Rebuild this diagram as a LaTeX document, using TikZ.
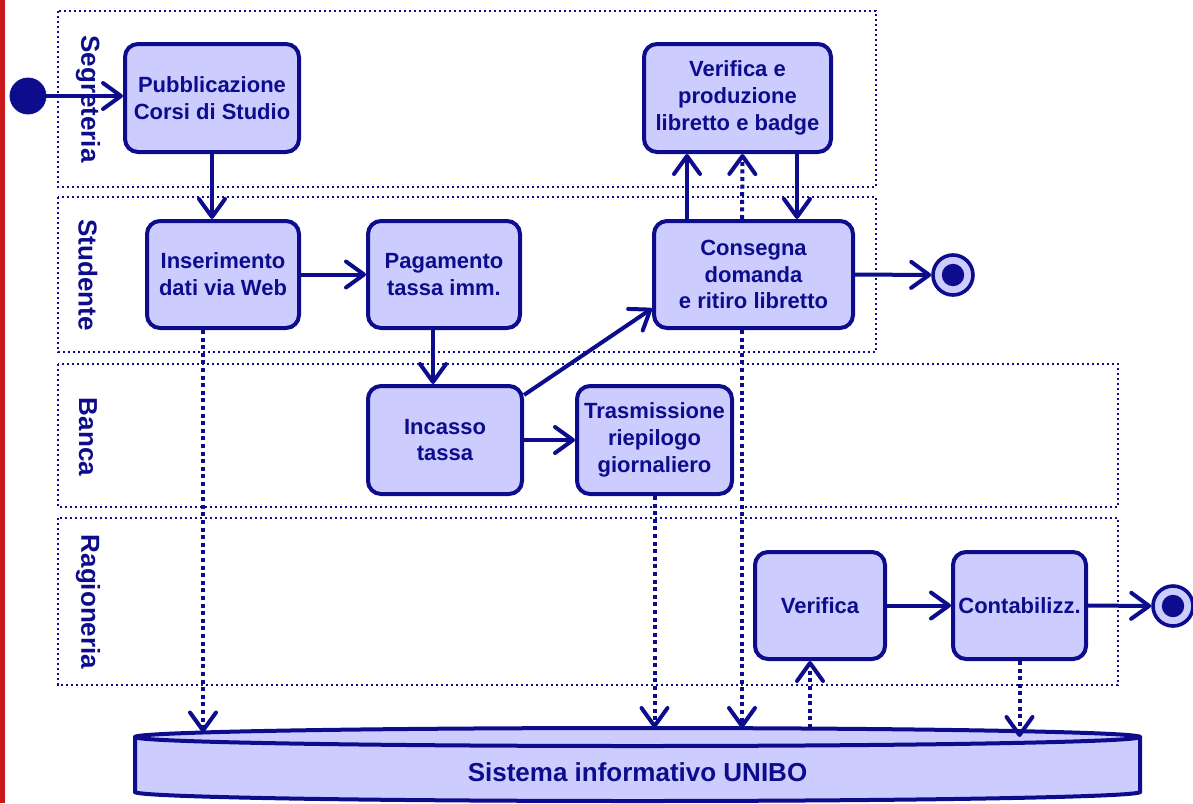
\documentclass[tikz,border=0pt]{standalone}
\usepackage{fontspec}
\setmainfont{Liberation Sans}
\usetikzlibrary{arrows.meta,calc,shapes}
\definecolor{unibo}{RGB}{12,12,140}
\definecolor{actfill}{RGB}{204,204,255}
\definecolor{barred}{RGB}{200,24,24}

\begin{document}
\begin{tikzpicture}[x=0.5pt,y=-0.5pt,
    font=\fontsize{11}{13.4}\selectfont\bfseries,
    activity/.style={draw=unibo, fill=actfill, text=unibo, line width=2pt, rounded corners=6.5pt, align=center, inner sep=1pt},
    lane/.style={draw=unibo, line width=1.1pt, dash pattern=on 1.1pt off 1.4pt},
    lanelabel/.style={rotate=-90, text=unibo, font=\fontsize{13}{15}\selectfont\bfseries},
    flow/.style={draw=unibo, line width=2pt, -{Straight Barb[length=9pt,width=13pt,round]}},
    dataflow/.style={flow, dash pattern=on 2pt off 1.8pt},
    startnode/.style={circle, fill=unibo, draw=unibo, minimum size=18pt, inner sep=0pt},
    endnode/.style={circle, fill=actfill, draw=unibo, line width=1.8pt, minimum size=20pt, inner sep=0pt,
        path picture={\fill[unibo] (path picture bounding box.center) circle (5.6pt);}},
    sisbox/.style={text=unibo, minimum width=502.5pt, minimum height=44pt, inner sep=0pt, outer sep=0pt, font=\fontsize{13}{15}\selectfont\bfseries}]
    \useasboundingbox (0,0) rectangle (1193,803);

    % red margin bar
    \fill[barred] (0,0) rectangle (5,803);

    % Swimlanes
    \draw[lane] (58,11) rectangle (876,187);
    \draw[lane] (58,197) rectangle (876,352);
    \draw[lane] (58,364) rectangle (1118,507);
    \draw[lane] (58,518) rectangle (1118,685);
    \node[lanelabel] (lseg) at (88,99) {Segreteria};
    \node[lanelabel] (lstu) at (88,275) {Studente};
    \node[lanelabel] (lban) at (88,437) {Banca};
    \node[lanelabel] (lrag) at (88,602) {Ragioneria};

    % Sistema informativo
    \filldraw[draw=unibo, fill=actfill, line width=2pt] (135,737) -- (135,792)
        arc[start angle=180, end angle=360, x radius=251.25pt, y radius=4.5pt] -- (1140,737)
        arc[start angle=0, end angle=180, x radius=251.25pt, y radius=4.5pt] -- cycle;
    \draw[unibo, line width=2pt] (135,737) arc[start angle=180, end angle=360, x radius=251.25pt, y radius=4.5pt];
    \node[sisbox] (sis) at (637.5,772) {Sistema informativo UNIBO};

    % Activities
    \node[activity, minimum width=87pt, minimum height=54pt] (pub) at (212,98) {Pubblicazione\\Corsi di Studio};
    \node[activity, minimum width=93.5pt, minimum height=54pt] (verprod) at (737.5,98) {Verifica e\\produzione\\libretto e badge};
    \node[activity, minimum width=76pt, minimum height=53.5pt] (ins) at (223,274.5) {Inserimento\\dati via Web};
    \node[activity, minimum width=76pt, minimum height=53.5pt] (pag) at (444,274.5) {Pagamento\\tassa imm.};
    \node[activity, minimum width=99.5pt, minimum height=53.5pt] (cons) at (753.5,274.5) {Consegna\\domanda\\e ritiro libretto};
    \node[activity, minimum width=77pt, minimum height=54pt] (inc) at (445,440) {Incasso\\tassa};
    \node[activity, minimum width=77.5pt, minimum height=54pt] (tras) at (654.5,440) {Trasmissione\\riepilogo\\giornaliero};
    \node[activity, minimum width=65pt, minimum height=53.5pt] (ver) at (820,605.5) {Verifica};
    \node[activity, minimum width=66.5pt, minimum height=53.5pt] (cont) at (1019.5,605.5) {Contabilizz.};

    % Start and end
    \node[startnode] (start) at (28,96) {};
    \node[endnode] (fin1) at (953,275) {};
    \node[endnode] (fin2) at (1173,606) {};

    % Control flow
    \draw[flow] (start.east) -- (start.east -| pub.west);
    \draw[flow] (pub.south) -- ([xshift=-5.5pt]ins.north);
    \draw[flow] (ins.east) -- (pag.west);
    \draw[flow] ([xshift=-5.5pt]pag.south) -- ([xshift=-6pt]inc.north);
    \draw[flow] ([yshift=-5.5pt]inc.north east) -- ([yshift=-17pt]cons.west);
    \draw[flow] (inc.east) -- (tras.west);
    \draw[flow] ([xshift=-33.25pt]cons.north) -- ([xshift=-25.25pt]verprod.south);
    \draw[flow] ([xshift=29.75pt]verprod.south) -- ([xshift=21.75pt]cons.north);
    \draw[flow] (cons.east) -- (fin1.west);
    \draw[flow] (ver.east) -- (cont.west);
    \draw[flow] (cont.east) -- (fin2.west);

    % Data flow to and from the information system
    \draw[dataflow] ([xshift=-10pt]ins.south) -- ([xshift=-217.25pt,yshift=-2.25pt]sis.north);
    \draw[dataflow] (tras.south) -- ([xshift=8.5pt]sis.north);
    \draw[dataflow] ([xshift=-5.75pt]cons.north) -- ([xshift=2.5pt]verprod.south);
    \draw[dataflow] ([xshift=-5.75pt]cons.south) -- ([xshift=52.25pt]sis.north);
    \draw[dataflow] ([xshift=86.25pt]sis.north) -- ([xshift=-5pt]ver.south);
    \draw[dataflow] (cont.south) -- ([xshift=191pt,yshift=-4.5pt]sis.north);
\end{tikzpicture}
\end{document}
